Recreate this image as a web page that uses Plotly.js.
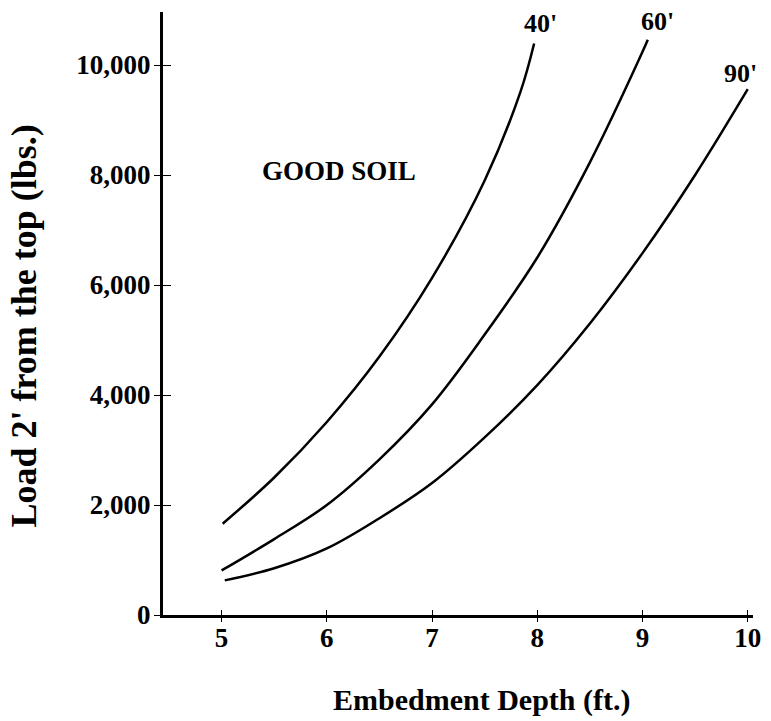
<!DOCTYPE html>
<html>
<head>
<meta charset="utf-8">
<script src="https://cdn.plot.ly/plotly-3.0.1.min.js"></script>
<style>html,body{margin:0;padding:0;background:#fff;}#chart{width:771px;height:721px;}</style>
</head>
<body>
<div id="chart"></div>
<script>
// Data
const depth40 = [5.01, 5.5, 6.0, 6.5, 7.0, 7.5, 7.84, 7.97];
const load40  = [1660, 2500, 3510, 4700, 6130, 7900, 9510, 10390];
const depth60 = [5.0, 5.5, 6.0, 6.5, 7.0, 7.5, 8.0, 8.5, 9.0, 9.05];
const load60  = [810, 1380, 2000, 2830, 3830, 5100, 6500, 8230, 10240, 10460];
const depth90 = [5.03, 5.5, 6.0, 6.5, 7.0, 7.5, 8.0, 8.5, 9.0, 9.5, 10.0];
const load90  = [630, 850, 1210, 1760, 2400, 3230, 4180, 5300, 6580, 8000, 9560];
const curveLabels = ["40'", "60'", "90'"];
const labelX = [8.03, 9.14, 9.93];
const labelY = [10760, 10800, 9850];
const xTicks = [5, 6, 7, 8, 9, 10];
const yTicks = [0, 2000, 4000, 6000, 8000, 10000];
const yTickText = ["0", "2,000", "4,000", "6,000", "8,000", "10,000"];

const FONT = "'Liberation Serif', 'Times New Roman', serif";
const lineStyle = {color: '#000', width: 2.5, shape: 'spline', smoothing: 1.0};

const traces = [
  {x: depth40, y: load40, mode: 'lines', line: lineStyle, hoverinfo: 'skip'},
  {x: depth60, y: load60, mode: 'lines', line: lineStyle, hoverinfo: 'skip'},
  {x: depth90, y: load90, mode: 'lines', line: lineStyle, hoverinfo: 'skip'},
  {x: [], y: [], xaxis: 'x2', yaxis: 'y2', mode: 'lines', hoverinfo: 'skip'}
];

const xRange = [4.443, 10.05];
const yRange = [0, 10964];

const annotations = curveLabels.map((t, i) => ({
  x: labelX[i], y: labelY[i], xref: 'x', yref: 'y', text: t, showarrow: false,
  xanchor: 'center', yanchor: 'middle',
  font: {family: FONT, size: 26, color: '#000', weight: 'bold'}
}));
annotations.push({x: 6.116, y: 8080, xref: 'x', yref: 'y', text: 'GOOD SOIL', showarrow: false,
  xanchor: 'center', yanchor: 'middle',
  font: {family: FONT, size: 27, color: '#000', weight: 'bold'}});
annotations.push({x: 0.539, y: -0.141, xref: 'paper', yref: 'paper', text: 'Embedment Depth (ft.)',
  showarrow: false, xanchor: 'center', yanchor: 'middle',
  font: {family: FONT, size: 30, color: '#000', weight: 'bold'}});
annotations.push({x: -0.235, y: 0.479, xref: 'paper', yref: 'paper', text: "Load 2' from the top (lbs.)",
  showarrow: false, textangle: -90, xanchor: 'center', yanchor: 'middle',
  font: {family: FONT, size: 36, color: '#000', weight: 'bold'}});

const layout = {
  width: 771, height: 721,
  margin: {l: 163, r: 18, t: 12, b: 106, pad: 0},
  paper_bgcolor: '#fff', plot_bgcolor: '#fff',
  showlegend: false,
  xaxis: {range: xRange, tickmode: 'array', tickvals: xTicks, ticktext: xTicks.map(String),
    showgrid: false, zeroline: false, showline: true, linecolor: '#000', linewidth: 3,
    ticks: 'outside', ticklen: 4, tickwidth: 1, tickcolor: '#000', ticklabelstandoff: -7,
    tickfont: {family: FONT, size: 27, color: '#000', weight: 'bold'}, fixedrange: true},
  yaxis: {range: yRange, tickmode: 'array', tickvals: yTicks, ticktext: yTickText,
    showgrid: false, zeroline: false, showline: true, linecolor: '#000', linewidth: 3,
    ticks: 'outside', ticklen: 6, tickwidth: 1, tickcolor: '#000', ticklabelstandoff: -2,
    tickfont: {family: FONT, size: 27, color: '#000', weight: 'bold'}, fixedrange: true},
  xaxis2: {range: xRange, overlaying: 'x', anchor: 'y2', tickmode: 'array', tickvals: xTicks,
    showticklabels: false, showgrid: false, zeroline: false, showline: false,
    ticks: 'inside', ticklen: 5, tickwidth: 1, tickcolor: '#000', fixedrange: true},
  yaxis2: {range: yRange, overlaying: 'y', anchor: 'x2', tickmode: 'array', tickvals: yTicks.slice(1),
    showticklabels: false, showgrid: false, zeroline: false, showline: false,
    ticks: 'inside', ticklen: 8, tickwidth: 1, tickcolor: '#000', fixedrange: true},
  annotations: annotations
};

Plotly.newPlot('chart', traces, layout, {displayModeBar: false, staticPlot: true});
</script>
</body>
</html>
